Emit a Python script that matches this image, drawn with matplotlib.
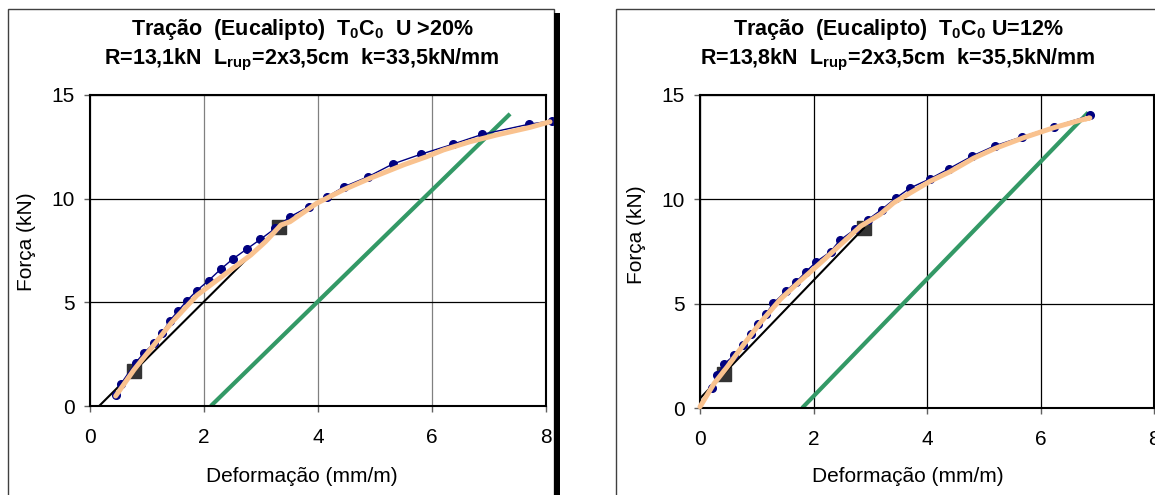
import matplotlib
matplotlib.use('Agg')
import matplotlib.pyplot as plt
import matplotlib.patches as patches

plt.rcParams['font.family'] = ['Liberation Sans', 'DejaVu Sans']
plt.rcParams['mathtext.fontset'] = 'custom'
plt.rcParams['mathtext.rm'] = 'Liberation Sans'
plt.rcParams['mathtext.bf'] = 'Liberation Sans:bold'

# --- left chart: U > 20% ---
left_title = ['Tração  (Eucalipto)  $\\mathbf{T_0C_0}$  U >20%',
              'R=13,1kN  $\\mathbf{L_{rup}}$=2x3,5cm  k=33,5kN/mm']
left_x = [0.45, 0.54, 0.80, 0.95, 1.12, 1.27, 1.40, 1.55, 1.70, 1.87, 2.08, 2.29, 2.50, 2.75,
          2.99, 3.25, 3.51, 3.84, 4.15, 4.46, 4.88, 5.31, 5.80, 6.36, 6.88, 7.70, 8.10]
left_y = [0.53, 1.06, 2.09, 2.57, 3.02, 3.54, 4.12, 4.60, 5.08, 5.56, 6.05, 6.59, 7.08, 7.57,
          8.04, 8.57, 9.13, 9.61, 10.07, 10.58, 11.06, 11.67, 12.14, 12.62, 13.10, 13.59, 13.75]
left_fit_x = [0.45, 0.77, 1.12, 1.42, 1.88, 2.35, 2.82, 3.08, 3.35, 3.51, 3.98, 4.44, 4.91,
              5.50, 5.91, 6.20, 6.67, 7.13, 7.72, 8.07]
left_fit_y = [0.48, 1.74, 2.94, 3.99, 5.35, 6.32, 7.28, 7.93, 8.73, 8.89, 9.78, 10.42, 10.98,
              11.63, 12.03, 12.35, 12.75, 13.07, 13.44, 13.71]
left_elastic_x = [0.16, 3.32]
left_elastic_y = [0.0, 8.65]
left_marks_x = [0.78, 3.32]
left_marks_y = [1.70, 8.65]
left_offset_x = [2.12, 7.37]
left_offset_y = [0.0, 14.09]

# --- right chart: U = 12% ---
right_title = ['Tração  (Eucalipto)  $\\mathbf{T_0C_0}$ U=12%',
               'R=13,8kN  $\\mathbf{L_{rup}}$=2x3,5cm  k=35,5kN/mm']
right_x = [0.22, 0.30, 0.42, 0.60, 0.75, 0.89, 1.03, 1.16, 1.29, 1.51, 1.70, 1.87, 2.05, 2.30,
           2.46, 2.73, 2.96, 3.20, 3.45, 3.70, 4.05, 4.38, 4.80, 5.19, 5.68, 6.24, 6.88]
right_y = [0.94, 1.57, 2.10, 2.52, 3.00, 3.56, 4.03, 4.51, 5.01, 5.59, 6.06, 6.54, 7.01, 7.49,
           8.03, 8.56, 9.03, 9.51, 10.06, 10.54, 10.98, 11.46, 12.08, 12.56, 13.00, 13.48, 14.03]
right_fit_x = [0.0, 0.25, 0.48, 0.78, 1.07, 1.42, 1.77, 2.13, 2.48, 2.83, 3.17, 3.41, 3.70,
               4.05, 4.41, 4.82, 5.20, 5.70, 6.23, 6.70, 6.87, 6.80]
right_fit_y = [0.06, 1.18, 1.97, 3.08, 4.11, 5.22, 6.10, 6.97, 7.84, 8.71, 9.27, 9.83, 10.30,
               10.86, 11.33, 11.97, 12.44, 12.95, 13.43, 13.79, 13.90, 13.86]
right_elastic_x = [0.0, 2.89]
right_elastic_y = [0.46, 8.63]
right_marks_x = [0.42, 2.89]
right_marks_y = [1.65, 8.63]
right_offset_x = [1.80, 6.84]
right_offset_y = [0.0, 14.16]

navy = '#000080'
peach = '#F9C28F'
green = '#339966'

fig = plt.figure(figsize=(11.55, 4.95), dpi=100)

# chart frames
fig.patches.append(patches.Rectangle((8/1155, -0.02), 546/1155, 1.02 - 9/495, transform=fig.transFigure,
                                     fill=False, edgecolor='#404040', linewidth=1))
fig.patches.append(patches.Rectangle((554/1155, -0.02), 6/1155, 1.02 - 13/495, transform=fig.transFigure,
                                     facecolor='black', edgecolor='none'))
fig.patches.append(patches.Rectangle((616/1155, -0.02), 0.5, 1.02 - 9/495, transform=fig.transFigure,
                                     fill=False, edgecolor='#404040', linewidth=1))

panels = [
    ([90/1155, 1 - 406/495, 456/1155, 311/495], left_title, 302, left_x, left_y, left_fit_x, left_fit_y,
     left_elastic_x, left_elastic_y, left_marks_x, left_marks_y, left_offset_x, left_offset_y, '#808080', 242, 302),
    ([700/1155, 1 - 408/495, 454/1155, 313/495], right_title, 898, right_x, right_y, right_fit_x, right_fit_y,
     right_elastic_x, right_elastic_y, right_marks_x, right_marks_y, right_offset_x, right_offset_y, 'black', 235, 908),
]

for (pos, title, tx, px, py, fx, fy, ex, ey, mx, my, ox, oy, vgrid, ylab_y, xlab_x) in panels:
    ax = fig.add_axes(pos)
    ax.set_xlim(0, 8)
    ax.set_ylim(0, 15)
    ax.set_xticks([0, 2, 4, 6, 8])
    ax.set_yticks([0, 5, 10, 15])
    ax.xaxis.grid(True, color=vgrid, linewidth=0.9)
    ax.yaxis.grid(True, color='black', linewidth=0.9)
    ax.set_axisbelow(True)
    for s in ax.spines.values():
        s.set_linewidth(1.5)
        s.set_color('black')
    ax.tick_params(labelsize=15, length=4, width=1, color='#606060', pad=11.5)
    ax.tick_params(axis='y', pad=7)

    ax.plot(ox, oy, color=green, linewidth=3, solid_capstyle='butt', zorder=2)
    ax.plot(mx, my, 's', color='#333333', markersize=10, zorder=3)
    ax.plot(ex, ey, color='black', linewidth=1.5, zorder=4)
    ax.plot(px, py, '-o', color=navy, markersize=5.5, linewidth=1, zorder=5, clip_on=False)
    ax.plot(fx, fy, color=peach, linewidth=3.6, solid_capstyle='round', zorder=6, clip_on=False)

    fig.text(tx/1155, 1 - 29/495, title[0], ha='center', va='center', fontsize=15.5, fontweight='bold')
    fig.text(tx/1155, 1 - 60/495, title[1], ha='center', va='center', fontsize=15.5, fontweight='bold')
    fig.text(xlab_x/1155, 1 - 477/495, 'Deformação (mm/m)', ha='center', va='center', fontsize=15)
    fig.text((pos[0]*1155 - 63)/1155, 1 - ylab_y/495, 'Força (kN)', ha='center', va='center',
             rotation=90, fontsize=15)

fig.savefig('out.png', dpi=100)
